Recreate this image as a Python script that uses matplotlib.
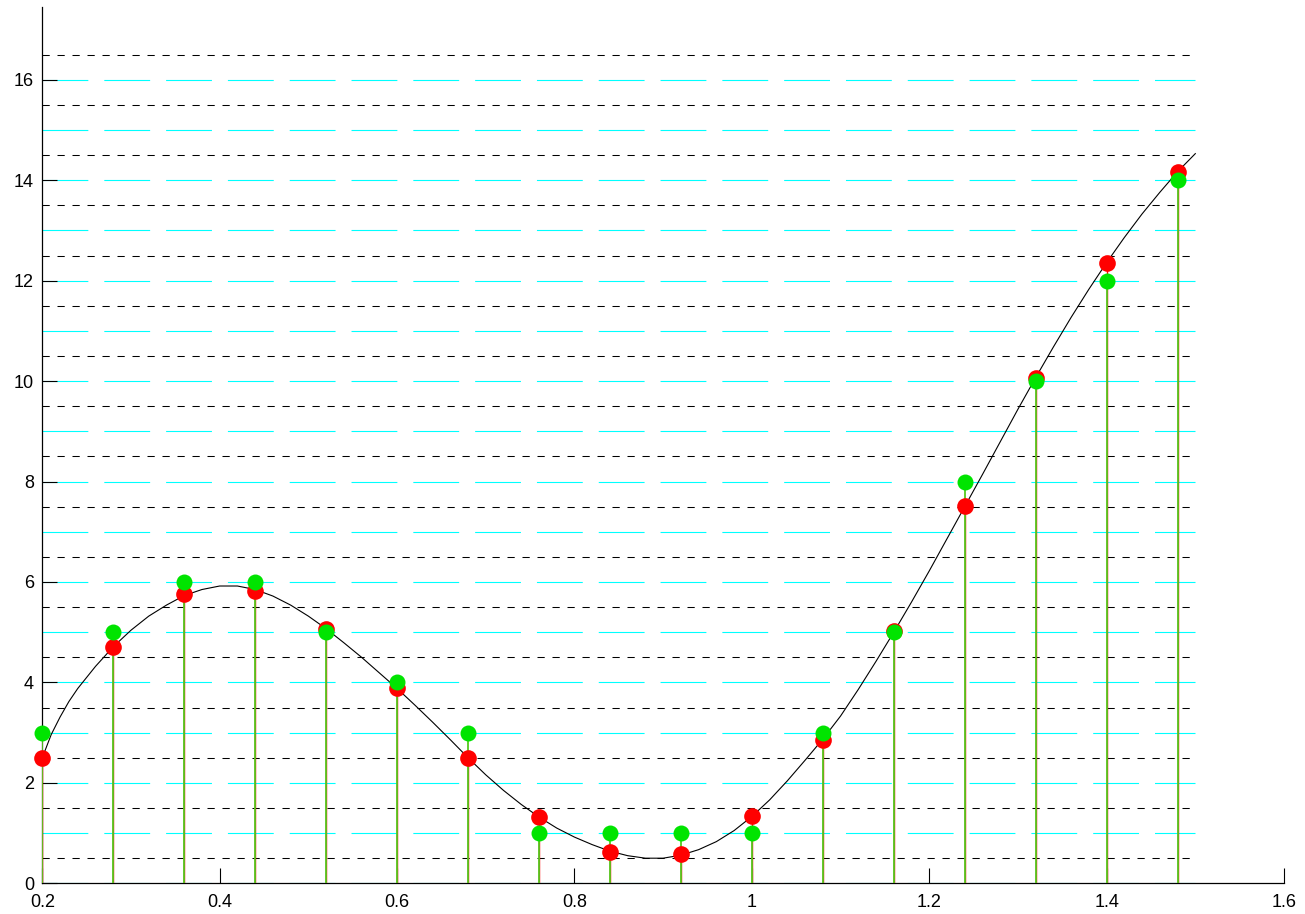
import numpy as np
import matplotlib
matplotlib.use("Agg")
import matplotlib.pyplot as plt

plt.rcParams["font.family"] = ["Liberation Sans", "DejaVu Sans"]
plt.rcParams["lines.scale_dashes"] = False

# sample instants and the signal value at each one
sample_x = [0.20, 0.28, 0.36, 0.44, 0.52, 0.60, 0.68, 0.76, 0.84,
            0.92, 1.00, 1.08, 1.16, 1.24, 1.32, 1.40, 1.48]
sampled = [2.50, 4.71, 5.76, 5.82, 5.07, 3.88, 2.50, 1.32, 0.62,
           0.58, 1.34, 2.85, 5.02, 7.52, 10.07, 12.36, 14.17]
# the same samples after rounding to the nearest level
quantized = [3, 5, 6, 6, 5, 4, 3, 1, 1, 1, 1, 3, 5, 8, 10, 12, 14]

# continuous signal, read every 0.02
curve_x = [0.20, 0.21, 0.22, 0.23, 0.24, 0.26, 0.28, 0.30, 0.32, 0.34,
           0.36, 0.38, 0.40, 0.42, 0.44, 0.46, 0.48, 0.50, 0.52, 0.54,
           0.56, 0.58, 0.60, 0.62, 0.64, 0.66, 0.68, 0.70, 0.72, 0.74,
           0.76, 0.78, 0.80, 0.82, 0.84, 0.86, 0.88, 0.90, 0.92, 0.94,
           0.96, 0.98, 1.00, 1.02, 1.04, 1.06, 1.08, 1.10, 1.12, 1.14,
           1.16, 1.18, 1.20, 1.22, 1.24, 1.26, 1.28, 1.30, 1.32, 1.34,
           1.36, 1.38, 1.40, 1.42, 1.44, 1.46, 1.48, 1.50]
curve_y = [2.50, 2.96, 3.31, 3.62, 3.88, 4.32, 4.71, 5.04, 5.32, 5.54,
           5.73, 5.85, 5.92, 5.92, 5.85, 5.72, 5.54, 5.32, 5.07, 4.79,
           4.50, 4.19, 3.88, 3.55, 3.21, 2.86, 2.50, 2.16, 1.85, 1.57,
           1.32, 1.10, 0.92, 0.77, 0.64, 0.55, 0.50, 0.50, 0.56, 0.67,
           0.83, 1.05, 1.33, 1.66, 2.04, 2.45, 2.87, 3.33, 3.86, 4.42,
           5.00, 5.60, 6.22, 6.86, 7.50, 8.14, 8.79, 9.44, 10.07, 10.68,
           11.27, 11.83, 12.36, 12.86, 13.33, 13.76, 14.17, 14.53]

levels = np.arange(0, 17)            # quantisation levels
thresholds = np.arange(0.5, 17, 1.0)  # decision thresholds between levels

x_ticks = [0.2, 0.4, 0.6, 0.8, 1.0, 1.2, 1.4, 1.6]
x_tick_labels = ["0.2", "0.4", "0.6", "0.8", "1", "1.2", "1.4", "1.6"]
y_ticks = [0, 2, 4, 6, 8, 10, 12, 14, 16]

GREEN = "#00e400"
STEM = "#55c81e"

W, H = 1305, 914
fig = plt.figure(figsize=(W / 100, H / 100), dpi=100)
ax = fig.add_axes([42.3 / W, (H - 883.3) / H, (1284 - 42.3) / W, (883.3 - 7) / H])

ax.hlines(levels, 0.2, 1.5, colors="#00ffff", linewidth=0.8,
          linestyles=[(0, (33, 11.5))], zorder=1)
ax.hlines(thresholds, 0.2, 1.5, colors="black", linewidth=0.75,
          linestyles=[(0, (5.2, 5.6))], zorder=1)

ax.plot(curve_x, curve_y, color="black", linewidth=0.8, zorder=2)

ax.vlines(sample_x, 0, sampled, colors="red", linewidth=1.0, zorder=3)
ax.vlines(sample_x, 0, quantized, colors=STEM, linewidth=1.3, zorder=3)

ax.plot(sample_x, sampled, "o", color="red", markersize=12,
        markeredgewidth=0, zorder=4, clip_on=False)
ax.plot(sample_x, quantized, "o", color=GREEN, markersize=11.5,
        markeredgewidth=0, zorder=5, clip_on=False)

ax.set_xlim(0.2, 1.6)
ax.set_ylim(0, 17.45)
ax.set_xticks(x_ticks)
ax.set_xticklabels(x_tick_labels)
ax.set_yticks(y_ticks)
ax.tick_params(direction="in", length=11, width=0.8, labelsize=13)
ax.tick_params(axis="x", pad=8)
ax.tick_params(axis="y", pad=6)

for side in ("top", "right"):
    ax.spines[side].set_visible(False)
for side in ("left", "bottom"):
    ax.spines[side].set_linewidth(0.9)

fig.savefig("out.png", dpi=100)
